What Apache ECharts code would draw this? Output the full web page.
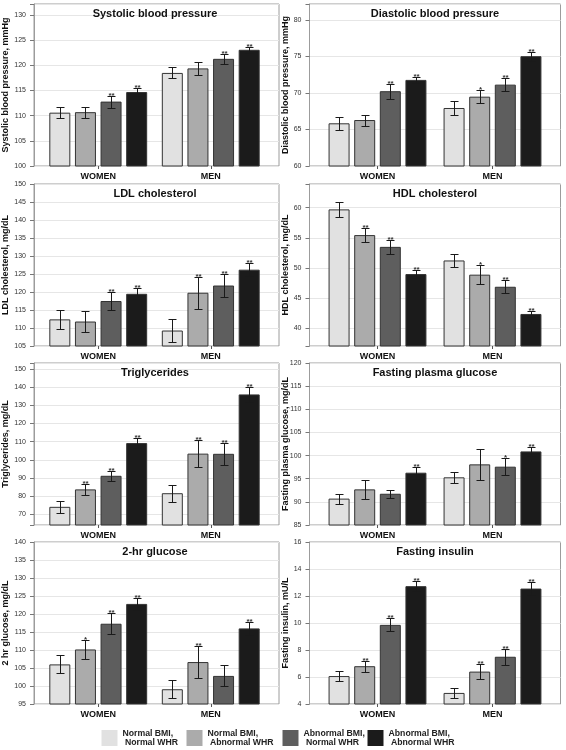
<!DOCTYPE html>
<html><head><meta charset="utf-8">
<script src="https://cdn.jsdelivr.net/npm/echarts@6/dist/echarts.min.js"></script>
<style>html,body{margin:0;padding:0;background:#fff}#c{width:566px;height:750px}</style>
</head><body><div id="c"></div>
<script>
const categories = ['WOMEN', 'MEN'];
const groups = ['Normal BMI, Normal WHR', 'Normal BMI, Abnormal WHR', 'Abnormal BMI, Normal WHR', 'Abnormal BMI, Abnormal WHR'];
const legendLabels = ['Normal BMI,\n Normal WHR', 'Normal BMI,\n Abnormal WHR', 'Abnormal BMI,\n Normal WHR', 'Abnormal BMI,\n Abnormal WHR'];
const titles = ['Systolic blood pressure', 'Diastolic blood pressure', 'LDL cholesterol', 'HDL cholesterol', 'Triglycerides', 'Fasting plasma glucose', '2-hr glucose', 'Fasting insulin'];
const yNames = ['Systolic blood pressure, mmHg', 'Diastolic blood pressure, mmHg', 'LDL cholesterol, mg/dL', 'HDL cholesterol, mg/dL', 'Triglycerides, mg/dL', 'Fasting plasma glucose, mg/dL', '2 hr glucose, mg/dL', 'Fasting insulin, mU/L'];
const yMin = [100, 60, 105, 37.1, 64.1, 85, 95, 4];
const yMax = [132.2, 82.2, 150, 63.9, 153.3, 120, 140, 16];
const yStep = [5, 5, 5, 5, 10, 5, 5, 2];

// Systolic blood pressure
const sbpWomen = [110.6, 110.7, 112.8, 114.7];
const sbpMen = [118.5, 119.4, 121.3, 123.1];
const sbpErrWomen = [1.1, 1.1, 1.2, 0.85];
const sbpErrMen = [1.1, 1.25, 1.0, 0.65];
const sbpSigWomen = ['', '', '**', '**'];
const sbpSigMen = ['', '', '**', '**'];
// Diastolic blood pressure
const dbpWomen = [65.85, 66.3, 70.25, 71.8];
const dbpMen = [67.95, 69.5, 71.15, 75.05];
const dbpErrWomen = [0.9, 0.75, 1.05, 0.45];
const dbpErrMen = [1.0, 0.9, 0.85, 0.6];
const dbpSigWomen = ['', '', '**', '**'];
const dbpSigMen = ['', '*', '**', '**'];
// LDL cholesterol
const ldlWomen = [112.4, 111.8, 117.5, 119.5];
const ldlMen = [109.3, 119.8, 121.8, 126.2];
const ldlErrWomen = [2.6, 2.8, 2.6, 1.5];
const ldlErrMen = [3.1, 4.5, 3.3, 1.85];
const ldlSigWomen = ['', '', '**', '**'];
const ldlSigMen = ['', '**', '**', '**'];
// HDL cholesterol
const hdlWomen = [59.7, 55.45, 53.5, 49.0];
const hdlMen = [51.25, 48.9, 46.9, 42.4];
const hdlErrWomen = [1.3, 1.15, 1.1, 0.65];
const hdlErrMen = [1.15, 1.55, 1.05, 0.55];
const hdlSigWomen = ['', '**', '**', '**'];
const hdlSigMen = ['', '*', '**', '**'];
// Triglycerides
const tgWomen = [74.1, 83.7, 91.2, 109.2];
const tgMen = [81.6, 103.4, 103.3, 136.0];
const tgErrWomen = [3.2, 3.25, 2.85, 2.6];
const tgErrMen = [4.8, 7.3, 5.9, 4.2];
const tgSigWomen = ['', '**', '**', '**'];
const tgSigMen = ['', '**', '**', '**'];
// Fasting plasma glucose
const fpgWomen = [90.7, 92.7, 91.75, 96.3];
const fpgMen = [95.3, 98.1, 97.6, 100.9];
const fpgErrWomen = [1.1, 2.0, 0.85, 1.3];
const fpgErrMen = [1.2, 3.4, 1.9, 1.0];
const fpgSigWomen = ['', '', '', '**'];
const fpgSigMen = ['', '', '*', '**'];
// 2-hr glucose
const g2Women = [106.0, 110.15, 117.3, 122.8];
const g2Men = [99.1, 106.65, 102.8, 116.0];
const g2ErrWomen = [2.5, 2.7, 2.9, 1.7];
const g2ErrMen = [2.5, 4.4, 2.9, 1.9];
const g2SigWomen = ['', '*', '**', '**'];
const g2SigMen = ['', '**', '', '**'];
// Fasting insulin
const insWomen = [6.07, 6.8, 9.86, 12.73];
const insMen = [4.82, 6.4, 7.5, 12.55];
const insErrWomen = [0.4, 0.4, 0.48, 0.36];
const insErrMen = [0.4, 0.55, 0.58, 0.47];
const insSigWomen = ['', '**', '**', '**'];
const insSigMen = ['', '**', '**', '**'];

const panelData = [
  [sbpWomen, sbpMen, sbpErrWomen, sbpErrMen, sbpSigWomen, sbpSigMen],
  [dbpWomen, dbpMen, dbpErrWomen, dbpErrMen, dbpSigWomen, dbpSigMen],
  [ldlWomen, ldlMen, ldlErrWomen, ldlErrMen, ldlSigWomen, ldlSigMen],
  [hdlWomen, hdlMen, hdlErrWomen, hdlErrMen, hdlSigWomen, hdlSigMen],
  [tgWomen, tgMen, tgErrWomen, tgErrMen, tgSigWomen, tgSigMen],
  [fpgWomen, fpgMen, fpgErrWomen, fpgErrMen, fpgSigWomen, fpgSigMen],
  [g2Women, g2Men, g2ErrWomen, g2ErrMen, g2SigWomen, g2SigMen],
  [insWomen, insMen, insErrWomen, insErrMen, insSigWomen, insSigMen]
];

const FONT = '"Liberation Sans", Arial, Helvetica, sans-serif';
const colors = ['#e1e1e1', '#ababab', '#5e5e5e', '#1b1b1b'];
const BW = 21, GAPR = 0.22, STEP = BW * (1 + GAPR);
const rowsTop = [4, 184, 363, 542];
const H = 162;
const outerX = [[31, 279], [309.5, 560.5]];
const innerX = [[42, 267], [320, 550]];
const nameGaps = [24, 19];
const legendX = [101.5, 186.5, 282.5, 367.5];

const grid = [], xAxis = [], yAxis = [], series = [], graphic = [];

for (let p = 0; p < 8; p++) {
  const col = p % 2, row = Math.floor(p / 2);
  const top = rowsTop[row];
  const mn = yMin[p], mx = yMax[p], st = yStep[p];
  const [wv, mv, we, me, ws, ms] = panelData[p];
  const gi = grid.length;
  // outer box grid with y axis
  grid.push({left: outerX[col][0], top: top, width: outerX[col][1] - outerX[col][0], height: H,
    show: true, borderColor: '#9c9c9c', borderWidth: 1, backgroundColor: 'transparent'});
  xAxis.push({gridIndex: gi, type: 'category', data: categories, show: false});
  const ya = {gridIndex: gi, type: 'value', min: mn, max: mx,
    name: yNames[p], nameLocation: 'middle', nameGap: nameGaps[col], nameMoveOverlap: false,
    nameTextStyle: {fontFamily: FONT, fontWeight: 'bold', fontSize: 9, color: '#111'},
    axisLine: {show: true, lineStyle: {color: '#9c9c9c'}},
    axisTick: {show: true, length: 4, lineStyle: {color: '#777'}},
    axisLabel: {fontFamily: FONT, fontSize: 7, color: '#333', margin: 8,
      formatter: function (v) { const r = v / st; return Math.abs(r - Math.round(r)) < 1e-6 ? String(Math.round(v * 100) / 100) : ''; }},
    splitLine: {show: true, lineStyle: {color: '#e6e6e6', width: 1}}};
  if (Math.abs(mn / st - Math.round(mn / st)) < 1e-9) ya.interval = st;
  else ya.splitNumber = Math.round((mx - mn) / st);
  yAxis.push(ya);
  // inner grid with bars
  const gj = grid.length;
  grid.push({left: innerX[col][0], top: top, width: innerX[col][1] - innerX[col][0], height: H});
  xAxis.push({gridIndex: gj, type: 'category', data: categories,
    axisLine: {show: false},
    axisTick: {show: true, alignWithLabel: true, length: 3, lineStyle: {color: '#555'}},
    axisLabel: {fontFamily: FONT, fontWeight: 'bold', fontSize: 9, color: '#111', margin: 6}});
  yAxis.push({gridIndex: gj, type: 'value', min: mn, max: mx, show: false, splitLine: {show: false}});
  for (let k = 0; k < 4; k++) {
    series.push({type: 'bar', name: groups[k], xAxisIndex: gj, yAxisIndex: gj,
      data: [wv[k], mv[k]], barWidth: BW, barGap: (GAPR * 100) + '%',
      itemStyle: {color: colors[k], borderColor: '#333', borderWidth: 1},
      emphasis: {disabled: true}});
  }
  const eb = [], sigs = [];
  for (let k = 0; k < 4; k++) { eb.push([0, k, wv[k] - we[k], wv[k] + we[k]]); sigs.push(ws[k]); }
  for (let k = 0; k < 4; k++) { eb.push([1, k, mv[k] - me[k], mv[k] + me[k]]); sigs.push(ms[k]); }
  series.push({type: 'custom', xAxisIndex: gj, yAxisIndex: gj, z: 5, clip: false,
    encode: {x: 0, y: 3}, data: eb, silent: true,
    renderItem: function (params, api) {
      const c = api.value(0), g = api.value(1), lo = api.value(2), hi = api.value(3);
      const pt = api.coord([c, hi]), pb = api.coord([c, lo]);
      const x = Math.round(pt[0] + (g - 1.5) * STEP) + 0.5;
      const yt = Math.round(pt[1]) + 0.5, yb = Math.round(pb[1]) + 0.5;
      const ls = {stroke: '#1a1a1a', lineWidth: 1};
      const ch = [
        {type: 'line', shape: {x1: x, y1: yt, x2: x, y2: yb}, style: ls},
        {type: 'line', shape: {x1: x - 4, y1: yt, x2: x + 4, y2: yt}, style: ls},
        {type: 'line', shape: {x1: x - 4, y1: yb, x2: x + 4, y2: yb}, style: ls}
      ];
      const s = sigs[params.dataIndex];
      if (s) ch.push({type: 'text', style: {text: s, x: x, y: yt + 3, align: 'center', verticalAlign: 'bottom',
        textAlign: 'center', textVerticalAlign: 'bottom', fontSize: 8, fontWeight: 'bold', fontFamily: FONT, fill: '#333'}});
      return {type: 'group', children: ch};
    }});
  // title
  graphic.push({type: 'text', x: (outerX[col][0] + outerX[col][1]) / 2, y: top + 10, z: 10,
    style: {text: titles[p], align: 'center', verticalAlign: 'middle', textAlign: 'center', textVerticalAlign: 'middle',
      fontSize: 11, fontWeight: 'bold', fontFamily: FONT, fill: '#111'}});
}

const legend = groups.map((g, i) => ({
  data: [g], left: legendX[i], top: 729, orient: 'horizontal', padding: 0,
  itemWidth: 16, itemHeight: 16, icon: 'rect', selectedMode: false,
  itemStyle: {borderWidth: 0},
  formatter: function () { return legendLabels[i]; },
  textStyle: {fontFamily: FONT, fontSize: 8.7, fontWeight: 'bold', color: '#222', lineHeight: 9}
}));

const chart = echarts.init(document.getElementById('c'), null, {renderer: 'canvas'});
chart.setOption({
  animation: false,
  backgroundColor: '#fff',
  textStyle: {fontFamily: FONT},
  grid, xAxis, yAxis, series, legend, graphic
});
</script></body></html>
